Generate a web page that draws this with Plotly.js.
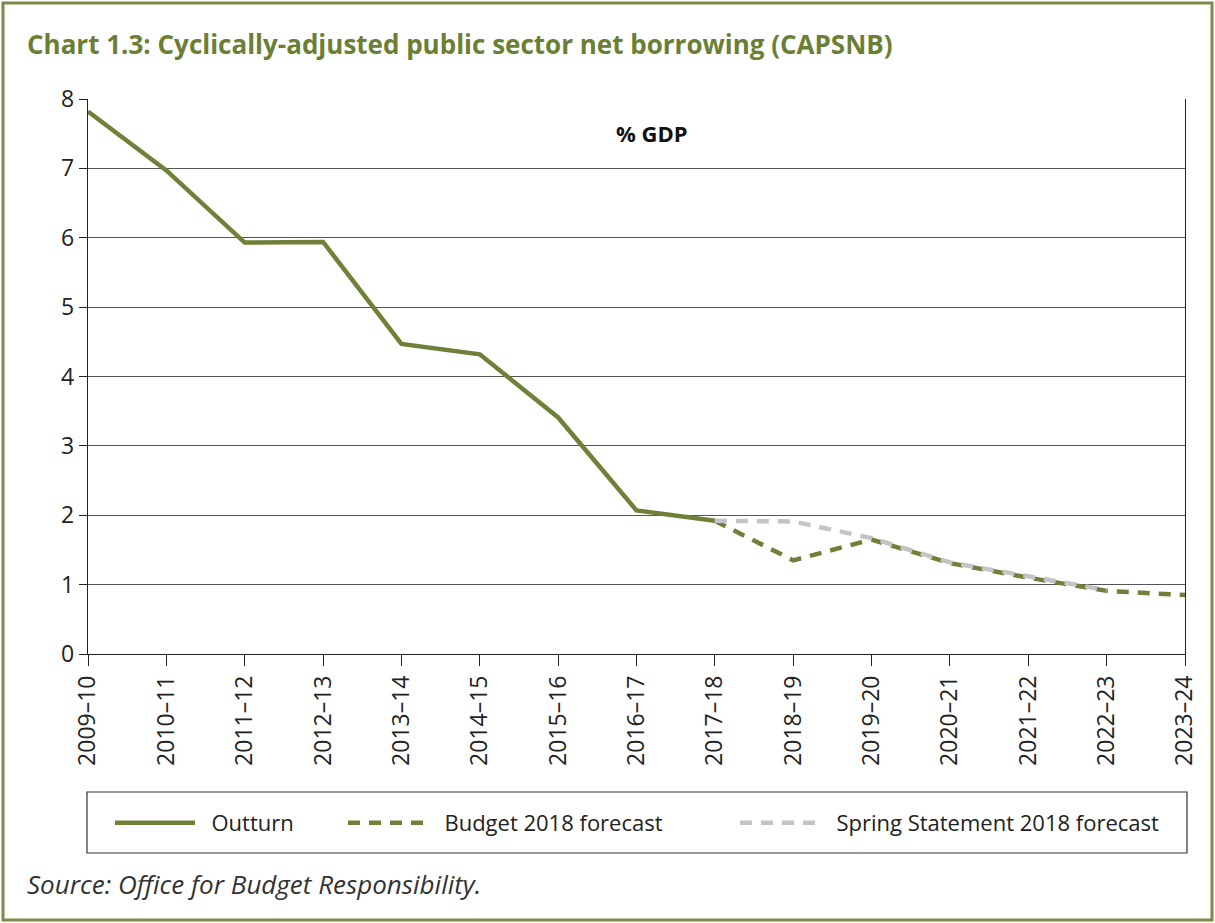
<!DOCTYPE html>
<html>
<head>
<meta charset="utf-8">
<script src="https://cdn.plot.ly/plotly-3.0.1.min.js"></script>
<style>html,body{margin:0;padding:0;background:#fff;}#chart{width:1215px;height:923px;}</style>
</head>
<body>
<div id="chart"></div>
<script>
const years = ["2009–10","2010–11","2011–12","2012–13","2013–14","2014–15","2015–16","2016–17","2017–18","2018–19","2019–20","2020–21","2021–22","2022–23","2023–24"];
const outturnYears = years.slice(0, 9);
const outturn = [7.82, 6.97, 5.93, 5.94, 4.47, 4.32, 3.41, 2.07, 1.92];
const budgetYears = years.slice(8);
const budget = [1.92, 1.35, 1.65, 1.31, 1.10, 0.91, 0.85];
const springYears = years.slice(8, 14);
const spring = [1.92, 1.91, 1.67, 1.32, 1.12, 0.92];
const seriesNames = ["Outturn", "Budget 2018 forecast", "Spring Statement 2018 forecast"];

const green = "#6f8139";
const grey = "#c3c4c6";
const font = "Open Sans, Noto Sans, sans-serif";

// plot area in pixels
const L = 88, R = 1185, T = 99, B = 654;
const W = R - L, H = B - T;
const px = x => (x - L) / W;
const py = y => (B - y) / H;
const pad = s => "\u00a0\u00a0" + s;

const data = [
  {x: outturnYears, y: outturn, name: pad(seriesNames[0]), type: "scatter", mode: "lines",
   line: {color: green, width: 4.5}, legend: "legend"},
  {x: budgetYears, y: budget, name: pad(seriesNames[1]), type: "scatter", mode: "lines",
   line: {color: green, width: 4.5, dash: "12px,9px"}, legend: "legend2"},
  {x: springYears, y: spring, name: pad(seriesNames[2]), type: "scatter", mode: "lines",
   line: {color: grey, width: 4.5, dash: "12px,9px"}, legend: "legend3"}
];

const legendBase = x => ({orientation: "h", x: px(x), xanchor: "left", y: py(823), yanchor: "middle",
  bgcolor: "rgba(0,0,0,0)", borderwidth: 0, itemwidth: 80,
  font: {family: font, size: 22, color: "#222"}});

const layout = {
  width: 1215, height: 923,
  margin: {l: L, r: 1215 - R, t: T, b: 923 - B},
  paper_bgcolor: "#fff", plot_bgcolor: "#fff",
  font: {family: font, color: "#222", size: 19},
  title: {text: "<b>Chart 1.3: Cyclically-adjusted public sector net borrowing (CAPSNB)</b>",
          x: 27/1215, xanchor: "left", xref: "container", y: 1 - 45/923, yanchor: "middle", yref: "container",
          font: {family: font, size: 26, color: "#6b7f34"}},
  showlegend: true,
  legend: legendBase(110),
  legend2: legendBase(343),
  legend3: legendBase(735),
  xaxis: {type: "category", range: [0, 14], showgrid: false, showline: true, linecolor: "#222", linewidth: 1.3,
          mirror: false, ticks: "outside", ticklen: 11, tickcolor: "#222", tickangle: -90,
          tickfont: {family: font, size: 23, color: "#222"}, zeroline: false, fixedrange: true},
  yaxis: {range: [0, 8], dtick: 1, showgrid: true, gridcolor: "#555", gridwidth: 1,
          showline: true, linecolor: "#222", linewidth: 1.3, mirror: true,
          ticks: "outside", ticklen: 8, tickcolor: "#222", zeroline: false,
          tickfont: {family: font, size: 23, color: "#222"}, fixedrange: true},
  annotations: [
    {text: "<b>% GDP</b>", xref: "paper", yref: "paper", x: px(652), y: py(133), xanchor: "center", yanchor: "middle",
     showarrow: false, font: {family: font, size: 22, color: "#111"}},
    {text: "<i>Source: Office for Budget Responsibility.</i>", xref: "paper", yref: "paper",
     x: px(25), y: py(884), xanchor: "left", yanchor: "middle", showarrow: false,
     font: {family: font, size: 26, color: "#333"}}
  ],
  shapes: [
    {type: "rect", xref: "paper", yref: "paper", x0: px(87), x1: px(1187), y0: py(853), y1: py(792),
     line: {color: "#333", width: 1.2}, fillcolor: "rgba(0,0,0,0)", layer: "below"},
    {type: "rect", xref: "paper", yref: "paper", x0: px(3), x1: px(1212), y0: py(920), y1: py(3),
     line: {color: "#7a8c47", width: 3}, fillcolor: "rgba(0,0,0,0)", layer: "below"}
  ]
};

Plotly.newPlot("chart", data, layout, {displayModeBar: false, staticPlot: true});
</script>
</body>
</html>
